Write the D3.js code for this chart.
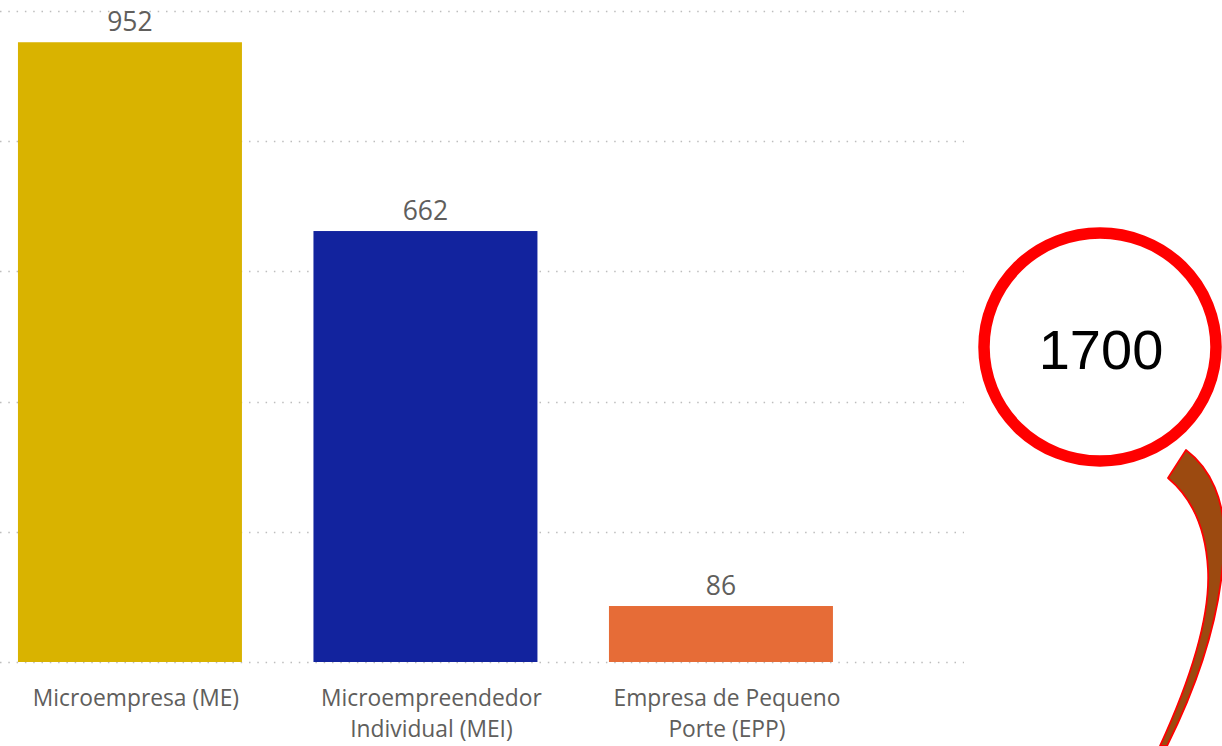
<!DOCTYPE html>
<html>
<head>
<meta charset="utf-8">
<script src="https://cdn.jsdelivr.net/npm/d3@7"></script>
<style>
  html, body { margin: 0; padding: 0; background: #ffffff; }
  svg { display: block; }
</style>
</head>
<body>
<svg id="chart" width="1222" height="746"></svg>
<script>
// ---- data ----
const categories = ["Microempresa (ME)", "Microempreendedor Individual (MEI)", "Empresa de Pequeno Porte (EPP)"];
const categoryLines = [["Microempresa (ME)"], ["Microempreendedor", "Individual (MEI)"], ["Empresa de Pequeno", "Porte (EPP)"]];
const values = [952, 662, 86];
const yTicks = [0, 200, 400, 600, 800, 1000];
const annotationValue = "1700";

// ---- styles ----
const barColors = ["#D9B300", "#12239E", "#E66C37"];
const labelColor = "#605E5C";
const fontFamily = "'Open Sans', 'Noto Sans', sans-serif";

const svg = d3.select("#chart");

const x = d3.scaleBand()
  .domain(categories)
  .range([-17.8, 868.7])
  .paddingInner(0.242)
  .paddingOuter(0.121);

const y = d3.scaleLinear()
  .domain([0, 1000])
  .range([662, 11]);

const color = d3.scaleOrdinal().domain(categories).range(barColors);

// gridlines
svg.append("g")
  .selectAll("line")
  .data(yTicks)
  .join("line")
  .attr("x1", 0)
  .attr("x2", 964)
  .attr("y1", d => Math.round(y(d)) + 0.5)
  .attr("y2", d => Math.round(y(d)) + 0.5)
  .attr("stroke", "#BDBDBD")
  .attr("stroke-width", 1.3)
  .attr("stroke-dasharray", "1.5,6.8");

// bars
svg.append("g")
  .selectAll("rect")
  .data(values)
  .join("rect")
  .attr("x", (d, i) => x(categories[i]))
  .attr("y", d => y(d))
  .attr("width", x.bandwidth())
  .attr("height", d => y(0) - y(d))
  .attr("fill", (d, i) => color(categories[i]));

// value labels
svg.append("g")
  .selectAll("text")
  .data(values)
  .join("text")
  .attr("x", (d, i) => x(categories[i]) + x.bandwidth() / 2)
  .attr("y", d => y(d) - 11)
  .attr("text-anchor", "middle")
  .attr("font-family", fontFamily)
  .attr("font-size", 26.5)
  .attr("fill", labelColor)
  .text(d => d3.format("d")(d));

// category axis labels
const labelShift = 6;
const cat = svg.append("g")
  .selectAll("text")
  .data(categories)
  .join("text")
  .attr("x", d => x(d) + x.bandwidth() / 2 + labelShift)
  .attr("y", 706)
  .attr("text-anchor", "middle")
  .attr("font-family", fontFamily)
  .attr("font-size", 22.8)
  .attr("fill", labelColor);
cat.each(function(d, i) {
  const t = d3.select(this);
  categoryLines[i].forEach((line, j) => {
    t.append("tspan")
      .attr("x", x(d) + x.bandwidth() / 2 + labelShift)
      .attr("dy", j === 0 ? 0 : 31)
      .text(line);
  });
});

// annotation: curved arrow
const arrow = d3.path();
arrow.moveTo(1186, 450);
arrow.bezierCurveTo(1210, 468, 1226, 500, 1224, 545);
arrow.bezierCurveTo(1222, 610, 1200, 680, 1167, 746);
arrow.lineTo(1160, 746);
arrow.bezierCurveTo(1195, 670, 1210, 610, 1208, 570);
arrow.bezierCurveTo(1206, 530, 1192, 498, 1168, 478);
arrow.closePath();
svg.append("path")
  .attr("d", arrow.toString())
  .attr("fill", "#9C4A10")
  .attr("stroke", "#FF0000")
  .attr("stroke-width", 1.8)
  .attr("stroke-linejoin", "round");

// annotation: circle
svg.append("ellipse")
  .attr("cx", 1100)
  .attr("cy", 347)
  .attr("rx", 116)
  .attr("ry", 114)
  .attr("fill", "#ffffff")
  .attr("stroke", "#FF0000")
  .attr("stroke-width", 11.5);

svg.append("text")
  .attr("x", 1101)
  .attr("y", 369)
  .attr("text-anchor", "middle")
  .attr("font-family", "'Liberation Sans', Arial, sans-serif")
  .attr("font-size", 56)
  .attr("fill", "#000000")
  .text(annotationValue);
</script>
</body>
</html>
